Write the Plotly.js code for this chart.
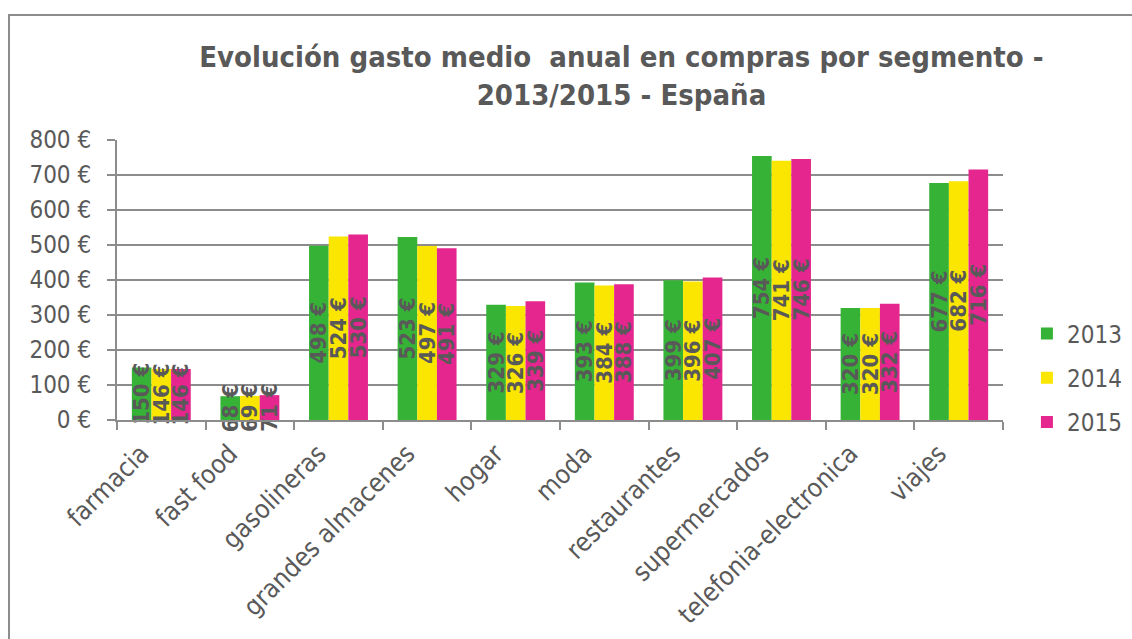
<!DOCTYPE html>
<html>
<head>
<meta charset="utf-8">
<script src="https://cdn.plot.ly/plotly-3.0.1.min.js"></script>
<style>
  html, body { margin: 0; padding: 0; background: #ffffff; }
  #wrap { position: relative; width: 1132px; height: 639px; overflow: hidden; }
  #chart { width: 1132px; height: 639px; }
  #frame { position: absolute; left: 8px; top: 14px; width: 1300px; height: 800px;
           border-top: 2px solid #8c8c8c; border-left: 2px solid #8c8c8c; pointer-events: none; }
</style>
</head>
<body>
<div id="wrap">
  <div id="chart"></div>
  <div id="frame"></div>
</div>
<script>
const categories = ["farmacia", "fast food", "gasolineras", "grandes almacenes", "hogar",
                    "moda", "restaurantes", "supermercados", "telefonia-electronica", "viajes"];
const seriesNames = ["2013", "2014", "2015"];
const values2013 = [150, 68, 498, 523, 329, 393, 399, 754, 320, 677];
const values2014 = [146, 69, 524, 497, 326, 384, 396, 741, 320, 682];
const values2015 = [146, 71, 530, 491, 339, 388, 407, 746, 332, 716];
const yTickVals = [0, 100, 200, 300, 400, 500, 600, 700, 800];
const yTickText = ["0 €", "100 €", "200 €", "300 €", "400 €", "500 €", "600 €", "700 €", "800 €"];
const titleLines = ["Evolución gasto medio  anual en compras por segmento -", "2013/2015 - España"];

const colors = ["#36B236", "#FAE600", "#E4268E"];
const FONT = "'DejaVu Sans Condensed', 'DejaVu Sans', Verdana, sans-serif";
const GREY = "#595959";
const LINE = "#8c8c8c";

const allValues = [values2013, values2014, values2015];
const traces = allValues.map((vals, i) => ({
  type: "bar",
  name: seriesNames[i],
  x: categories,
  y: vals,
  text: vals.map(v => v + " €"),
  texttemplate: "%{text}",
  textposition: "inside",
  insidetextanchor: "middle",
  textangle: -90,
  constraintext: "none",
  cliponaxis: false,
  textfont: { family: FONT, size: 22, color: GREY, weight: "bold" },
  insidetextfont: { family: FONT, size: 22, color: GREY, weight: "bold" },
  marker: { color: colors[i], line: { width: 0 } },
  legendgroup: "g" + i,
  hoverinfo: "x+y"
}));

const layout = {
  width: 1132,
  height: 639,
  margin: { l: 117, r: 129, t: 140, b: 219, pad: 0, autoexpand: false },
  paper_bgcolor: "#ffffff",
  plot_bgcolor: "#ffffff",
  font: { family: FONT, color: GREY, size: 24 },
  title: {
    text: titleLines.join("<br>"),
    font: { family: FONT, size: 29, color: GREY, weight: "bold" },
    xref: "container", x: 0.549, xanchor: "center",
    yref: "container", y: 0.895, yanchor: "top"
  },
  barmode: "group",
  bargap: 0.335,
  bargroupgap: 0,
  showlegend: true,
  legend: {
    x: 1.027, xanchor: "left",
    y: 0.15, yanchor: "middle",
    traceorder: "grouped",
    tracegroupgap: 10,
    font: { family: FONT, size: 24, color: GREY },
    itemwidth: 30,
    bgcolor: "rgba(0,0,0,0)"
  },
  xaxis: {
    type: "category",
    showline: true, linecolor: LINE, linewidth: 2,
    ticks: "outside", tickson: "boundaries", ticklen: 8, tickcolor: LINE, tickwidth: 2,
    tickangle: -45,
    tickfont: { family: FONT, size: 26, color: GREY },
    ticklabelstandoff: 6,
    ticklabelshift: -20,
    showgrid: false, zeroline: false
  },
  yaxis: {
    range: [0, 800],
    tickvals: yTickVals, ticktext: yTickText,
    showline: true, linecolor: LINE, linewidth: 2,
    ticks: "outside", ticklen: 8, tickcolor: LINE, tickwidth: 2,
    tickfont: { family: FONT, size: 24, color: GREY },
    ticklabelstandoff: 11,
    showgrid: true, gridcolor: LINE, gridwidth: 2,
    zeroline: false
  }
};

Plotly.newPlot("chart", traces, layout, { displayModeBar: false, staticPlot: true });
</script>
</body>
</html>
